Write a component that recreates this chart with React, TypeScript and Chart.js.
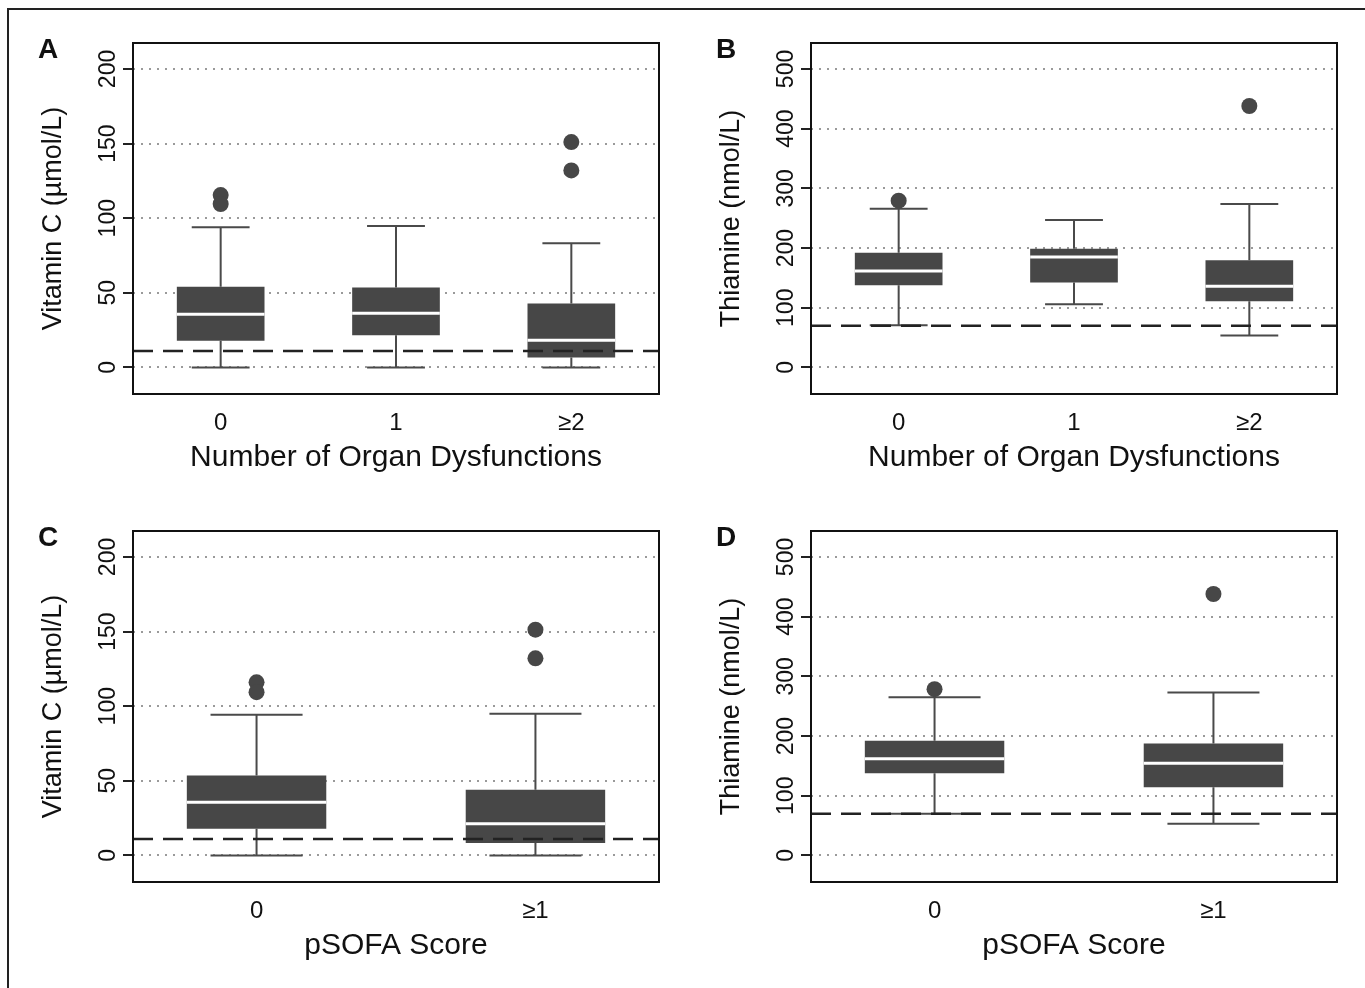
import React, { useEffect, useRef } from 'react';
import { Chart, registerables } from 'chart.js';

Chart.register(...registerables);

const FONT = '"Liberation Sans", Arial, Helvetica, sans-serif';

// ---- Categories / tick labels ----
const organCategories = ['0', '1', '≥2'];
const psofaCategories = ['0', '≥1'];
const vitaminCTicks = [0, 50, 100, 150, 200];
const thiamineTicks = [0, 100, 200, 300, 400, 500];

// ---- Panel A: Vitamin C by number of organ dysfunctions ----
const vitCOrganLow = [0, 0, 0];
const vitCOrganQ1 = [17.8, 21.6, 6.7];
const vitCOrganMedian = [35.7, 36.3, 18.3];
const vitCOrganQ3 = [54, 53.5, 42.8];
const vitCOrganHigh = [94, 94.8, 83.2];
const vitCOrganOutliers = [[115.5, 109.5], [], [151, 132]];

// ---- Panel B: Thiamine by number of organ dysfunctions ----
const thiOrganLow = [70.8, 105.9, 53.5];
const thiOrganQ1 = [137.7, 142.1, 110.9];
const thiOrganMedian = [161.6, 185, 136];
const thiOrganQ3 = [192.3, 199, 179.5];
const thiOrganHigh = [265.9, 247, 273.7];
const thiOrganOutliers = [[279.3], [], [438]];

// ---- Panel C: Vitamin C by pSOFA score ----
const vitCSofaLow = [0, 0];
const vitCSofaQ1 = [17.9, 8.3];
const vitCSofaMedian = [35.7, 21.2];
const vitCSofaQ3 = [53.6, 44];
const vitCSofaHigh = [94.2, 94.9];
const vitCSofaOutliers = [[116, 109.4], [151.3, 132.1]];

// ---- Panel D: Thiamine by pSOFA score ----
const thiSofaLow = [69.8, 53];
const thiSofaQ1 = [137.8, 114.4];
const thiSofaMedian = [161.8, 154.6];
const thiSofaQ3 = [192, 187.5];
const thiSofaHigh = [265, 272.9];
const thiSofaOutliers = [[278.5], [438]];

// ---- Deficiency thresholds (dashed lines) ----
const vitaminCThreshold = 11;
const thiamineThreshold = 70;

type PanelProps = {
  letter: string;
  left: number;
  top: number;
  categories: string[];
  low: number[];
  q1: number[];
  median: number[];
  q3: number[];
  high: number[];
  outliers: number[][];
  yMin: number;
  yMax: number;
  yTicks: number[];
  threshold: number;
  yTitle: string;
  xTitle: string;
  xMin: number;
  xMax: number;
};

const CANVAS_W = 660;
const CANVAS_H = 473;

function Panel(p: PanelProps) {
  const ref = useRef<HTMLCanvasElement | null>(null);

  useEffect(() => {
    const canvas = ref.current;
    if (!canvas) return;

    const boxPlugin = {
      id: 'boxExtras',
      beforeDatasetsDraw(chart: any) {
        const ctx = chart.ctx;
        const xs = chart.scales.x;
        const ys = chart.scales.y;
        ctx.save();
        ctx.strokeStyle = '#4a4a4a';
        ctx.lineWidth = 2;
        ctx.setLineDash([]);
        p.categories.forEach((_, i) => {
          const cx = xs.getPixelForValue(i + 1);
          const capL = xs.getPixelForValue(i + 1 - 0.165);
          const capR = xs.getPixelForValue(i + 1 + 0.165);
          const yHi = ys.getPixelForValue(p.high[i]);
          const yQ3 = ys.getPixelForValue(p.q3[i]);
          const yLo = ys.getPixelForValue(p.low[i]);
          const yQ1 = ys.getPixelForValue(p.q1[i]);
          ctx.beginPath();
          ctx.moveTo(cx, yQ3);
          ctx.lineTo(cx, yHi);
          ctx.moveTo(capL, yHi);
          ctx.lineTo(capR, yHi);
          ctx.moveTo(cx, yQ1);
          ctx.lineTo(cx, yLo);
          ctx.moveTo(capL, yLo);
          ctx.lineTo(capR, yLo);
          ctx.stroke();
        });
        ctx.restore();
      },
      afterDatasetsDraw(chart: any) {
        const ctx = chart.ctx;
        const xs = chart.scales.x;
        const ys = chart.scales.y;
        const area = chart.chartArea;
        ctx.save();
        // medians
        ctx.strokeStyle = '#ffffff';
        ctx.lineWidth = 3;
        p.categories.forEach((_, i) => {
          const l = xs.getPixelForValue(i + 1 - 0.25);
          const r = xs.getPixelForValue(i + 1 + 0.25);
          const y = ys.getPixelForValue(p.median[i]);
          ctx.beginPath();
          ctx.moveTo(l, y);
          ctx.lineTo(r, y);
          ctx.stroke();
        });
        // threshold
        const ty = ys.getPixelForValue(p.threshold);
        ctx.strokeStyle = '#222222';
        ctx.lineWidth = 2.5;
        ctx.setLineDash([20, 10]);
        ctx.beginPath();
        ctx.moveTo(area.left, ty);
        ctx.lineTo(area.right, ty);
        ctx.stroke();
        ctx.restore();
      },
      afterDraw(chart: any) {
        const ctx = chart.ctx;
        const a = chart.chartArea;
        ctx.save();
        ctx.strokeStyle = '#111111';
        ctx.lineWidth = 2;
        ctx.setLineDash([]);
        ctx.strokeRect(a.left, a.top, a.right - a.left, a.bottom - a.top);
        ctx.restore();
      },
    };

    const boxData = p.categories.map((_, i) => ({ x: i + 1, y: [p.q1[i], p.q3[i]] }));
    const outlierData: { x: number; y: number }[] = [];
    p.outliers.forEach((arr, i) => arr.forEach((v) => outlierData.push({ x: i + 1, y: v })));

    const chart = new Chart(canvas, {
      type: 'bar',
      data: {
        datasets: [
          {
            type: 'bar',
            data: boxData as any,
            backgroundColor: '#474747',
            borderWidth: 0,
            barPercentage: 0.5,
            categoryPercentage: 1,
            grouped: false,
            order: 2,
          },
          {
            type: 'scatter',
            data: outlierData as any,
            backgroundColor: '#474747',
            borderColor: '#474747',
            borderWidth: 0,
            pointRadius: 8,
            order: 1,
          } as any,
        ],
      },
      options: {
        animation: false,
        responsive: false,
        maintainAspectRatio: false,
        events: [],
        layout: { padding: { left: 0, top: 32, right: 11, bottom: 0 } },
        plugins: {
          legend: { display: false },
          tooltip: { enabled: false },
        },
        scales: {
          x: {
            type: 'linear',
            min: p.xMin,
            max: p.xMax,
            offset: false,
            grid: { display: false, drawTicks: false },
            border: { display: false },
            afterBuildTicks: (s: any) => {
              s.ticks = p.categories.map((_, i) => ({ value: i + 1 }));
            },
            afterFit: (s: any) => {
              s.height = 90;
            },
            ticks: {
              autoSkip: false,
              maxRotation: 0,
              minRotation: 0,
              padding: 15,
              color: '#111111',
              font: { family: FONT, size: 24 },
              callback: (v: any) => p.categories[Math.round(Number(v)) - 1] ?? '',
            },
            title: {
              display: true,
              text: p.xTitle,
              color: '#111111',
              font: { family: FONT, size: 30, lineHeight: 1 },
              padding: { top: 0, bottom: 11.5 },
            },
          },
          y: {
            type: 'linear',
            min: p.yMin,
            max: p.yMax,
            afterBuildTicks: (s: any) => {
              s.ticks = p.yTicks.map((v) => ({ value: v }));
            },
            afterFit: (s: any) => {
              s.width = 123;
            },
            grid: {
              color: '#9a9a9a',
              lineWidth: 2,
              drawTicks: true,
              tickLength: 10,
              tickColor: '#222222',
              tickWidth: 2,
              tickBorderDash: [],
            } as any,
            border: { display: false, dash: [2, 6] },
            ticks: {
              minRotation: 90,
              maxRotation: 90,
              crossAlign: 'center',
              padding: -5,
              color: '#111111',
              font: { family: FONT, size: 23 },
              callback: (v: any) => String(v),
            },
            title: {
              display: true,
              text: p.yTitle,
              color: '#111111',
              font: { family: FONT, size: 27, lineHeight: 1 },
              padding: { top: 30.5, bottom: 0 },
            },
          },
        },
      },
      plugins: [boxPlugin],
    });

    return () => {
      chart.destroy();
    };
  }, []);

  return (
    <>
      <canvas
        ref={ref}
        width={CANVAS_W}
        height={CANVAS_H}
        style={{ position: 'absolute', left: p.left, top: p.top, width: CANVAS_W, height: CANVAS_H }}
      />
      <div
        style={{
          position: 'absolute',
          left: p.left + 28,
          top: p.top + 24,
          fontFamily: FONT,
          fontWeight: 'bold',
          fontSize: 28,
          lineHeight: 1,
          color: '#111111',
        }}
      >
        {p.letter}
      </div>
    </>
  );
}

export default function App() {
  return (
    <div
      style={{
        position: 'absolute',
        left: 0,
        top: 0,
        width: 1365,
        height: 988,
        background: '#ffffff',
        overflow: 'hidden',
      }}
    >
      <div
        style={{
          position: 'absolute',
          left: 7,
          top: 8,
          width: 1400,
          height: 1000,
          borderTop: '2px solid #222222',
          borderLeft: '2px solid #222222',
        }}
      />
      <Panel
        letter="A"
        left={10}
        top={11}
        categories={organCategories}
        low={vitCOrganLow}
        q1={vitCOrganQ1}
        median={vitCOrganMedian}
        q3={vitCOrganQ3}
        high={vitCOrganHigh}
        outliers={vitCOrganOutliers}
        yMin={-17.8}
        yMax={217.4}
        yTicks={vitaminCTicks}
        threshold={vitaminCThreshold}
        yTitle="Vitamin C (µmol/L)"
        xTitle="Number of Organ Dysfunctions"
        xMin={0.5}
        xMax={3.5}
      />
      <Panel
        letter="B"
        left={688}
        top={11}
        categories={organCategories}
        low={thiOrganLow}
        q1={thiOrganQ1}
        median={thiOrganMedian}
        q3={thiOrganQ3}
        high={thiOrganHigh}
        outliers={thiOrganOutliers}
        yMin={-44.5}
        yMax={543.5}
        yTicks={thiamineTicks}
        threshold={thiamineThreshold}
        yTitle="Thiamine (nmol/L)"
        xTitle="Number of Organ Dysfunctions"
        xMin={0.5}
        xMax={3.5}
      />
      <Panel
        letter="C"
        left={10}
        top={499}
        categories={psofaCategories}
        low={vitCSofaLow}
        q1={vitCSofaQ1}
        median={vitCSofaMedian}
        q3={vitCSofaQ3}
        high={vitCSofaHigh}
        outliers={vitCSofaOutliers}
        yMin={-17.8}
        yMax={217.4}
        yTicks={vitaminCTicks}
        threshold={vitaminCThreshold}
        yTitle="Vitamin C (µmol/L)"
        xTitle="pSOFA Score"
        xMin={0.557}
        xMax={2.443}
      />
      <Panel
        letter="D"
        left={688}
        top={499}
        categories={psofaCategories}
        low={thiSofaLow}
        q1={thiSofaQ1}
        median={thiSofaMedian}
        q3={thiSofaQ3}
        high={thiSofaHigh}
        outliers={thiSofaOutliers}
        yMin={-44.5}
        yMax={543.5}
        yTicks={thiamineTicks}
        threshold={thiamineThreshold}
        yTitle="Thiamine (nmol/L)"
        xTitle="pSOFA Score"
        xMin={0.557}
        xMax={2.443}
      />
    </div>
  );
}
